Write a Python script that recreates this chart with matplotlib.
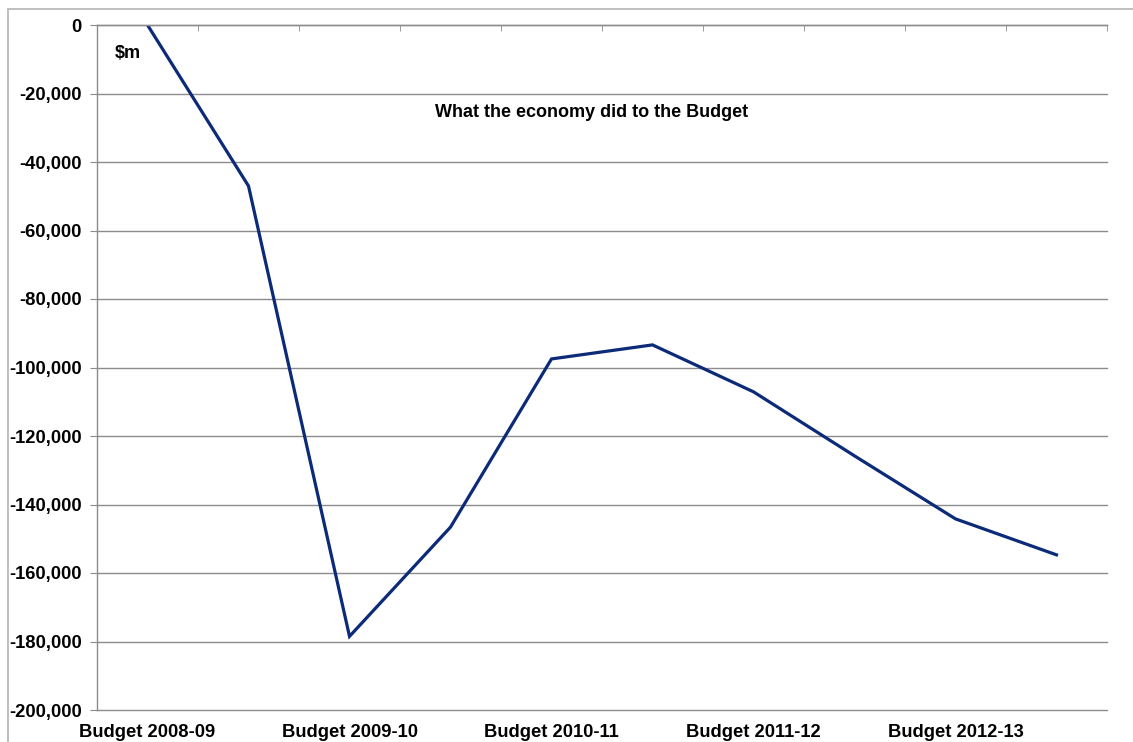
import numpy as np
import matplotlib.pyplot as plt
from matplotlib.patches import Rectangle
from matplotlib.ticker import FuncFormatter

plt.rcParams['font.family'] = ['Liberation Sans', 'DejaVu Sans']
plt.rcParams['font.weight'] = 'bold'

# impact of economic conditions on the budget, $m, by budget update
updates = ["Budget 2008-09", "", "Budget 2009-10", "", "Budget 2010-11",
           "", "Budget 2011-12", "", "Budget 2012-13", ""]
impact = [0, -47000, -178500, -146600, -97500, -93400,
          -107100, -125800, -144200, -154700]

grid_col = "#8c8c8c"
line_col = "#0b2a78"

fig = plt.figure(figsize=(11.33, 7.42), dpi=100)
W, H = 1133, 742

# outer chart frame
fig.patches.append(Rectangle((7.5 / W, -0.1), 1.2, 1 - 8.5 / H + 0.1,
                             transform=fig.transFigure, fill=False,
                             edgecolor="#b4b4b4", linewidth=1.2))

ax = fig.add_axes([97 / W, (H - 710) / H, (1107 - 97) / W, 685 / H])

x = np.arange(len(impact))
ax.plot(x, impact, color=line_col, linewidth=2.3, solid_joinstyle="miter")

ax.set_xlim(-0.5, len(impact) - 0.5)
ax.set_ylim(-200000, 0)
ax.set_yticks(np.arange(-200000, 1, 20000))
ax.yaxis.set_major_formatter(FuncFormatter(lambda v, p: f"{v:,.0f}"))
ax.yaxis.grid(True, color=grid_col, linewidth=1.0)
ax.set_axisbelow(True)
for gl in ax.get_ygridlines():
    gl.set_clip_on(False)

lab_idx = [i for i, s in enumerate(updates) if s]
ax.set_xticks(lab_idx, [updates[i] for i in lab_idx])
ax.set_xticks(np.arange(-0.5, len(impact), 1), minor=True)
ax.tick_params(axis="x", which="major", length=0, pad=10, labelsize=13.2)
ax.tick_params(axis="x", which="minor", bottom=False, top=True,
               direction="in", length=4, color=grid_col)
ax.tick_params(axis="y", which="major", length=5, color=grid_col,
               labelsize=13.2, pad=6)

for side in ("right", "bottom"):
    ax.spines[side].set_visible(False)
for side in ("top", "left"):
    ax.spines[side].set_color(grid_col)
    ax.spines[side].set_linewidth(1.0)

ax.text(0.018, 0.958, "$m", transform=ax.transAxes, fontsize=13,
        fontweight="bold", va="center", ha="left")
ax.text(0.49, 0.872, "What the economy did to the Budget",
        transform=ax.transAxes, fontsize=13, fontweight="bold",
        va="center", ha="center")

fig.savefig("out.png", dpi=100)
